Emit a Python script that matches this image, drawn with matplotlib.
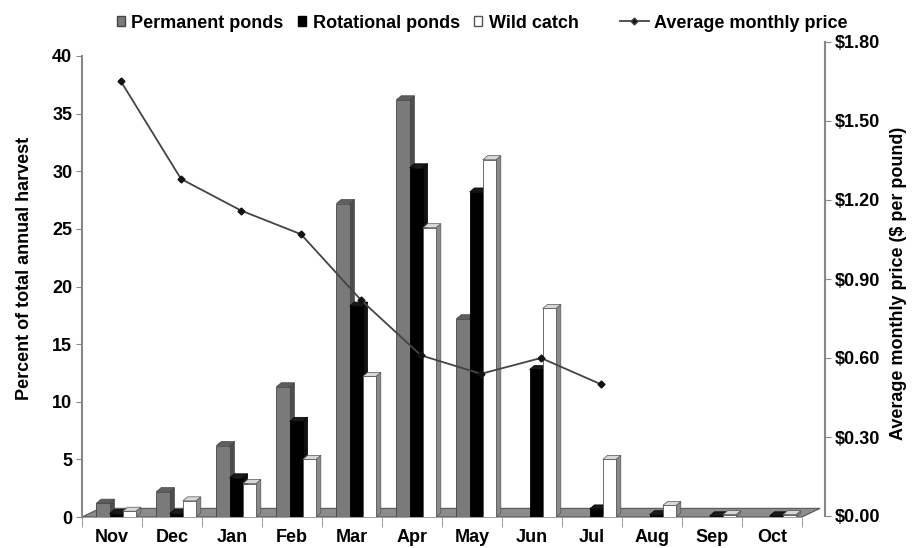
import matplotlib
matplotlib.use("Agg")
import matplotlib.pyplot as plt
from matplotlib.patches import Polygon, Patch
from matplotlib.lines import Line2D
from matplotlib.ticker import FuncFormatter

plt.rcParams['font.family'] = ['Liberation Sans', 'DejaVu Sans']
plt.rcParams['font.weight'] = 'bold'
FS = 13

# === Data ===
months = ['Nov', 'Dec', 'Jan', 'Feb', 'Mar', 'Apr', 'May', 'Jun', 'Jul', 'Aug', 'Sep', 'Oct']
permanent = [1.2, 2.2, 6.2, 11.3, 27.2, 36.2, 17.2, 0.0, 0.0, 0.0, 0.0, 0.0]
rotational = [0.3, 0.3, 3.4, 8.3, 18.3, 30.3, 28.2, 12.8, 0.7, 0.2, 0.1, 0.1]
wild = [0.5, 1.4, 2.9, 5.0, 12.2, 25.1, 31.0, 18.1, 5.0, 1.0, 0.2, 0.2]
price_months = ['Nov', 'Dec', 'Jan', 'Feb', 'Mar', 'Apr', 'May', 'Jun', 'Jul']
price = [1.65, 1.28, 1.16, 1.07, 0.82, 0.61, 0.54, 0.60, 0.50]
left_ticks = [0, 5, 10, 15, 20, 25, 30, 35, 40]
right_ticks = [0.0, 0.3, 0.6, 0.9, 1.2, 1.5, 1.8]

W, H = 920, 548
fig = plt.figure(figsize=(W / 100, H / 100), dpi=100)

# main (bars) axes: px 82..802 horizontally, 56..517 vertically
ax = fig.add_axes([82 / W, (H - 517) / H, 720 / W, 461 / H])
ax.set_xlim(-0.5, len(months) - 0.5)
ax.set_ylim(0, 40)

# fake 3D look
bw = 0.22
dx, dy = 0.08, 0.35
offsets = [-0.15, 0.07, 0.29]
styles = [
    dict(front='#7a7a7a', top='#5e5e5e', side='#4e4e4e', edge='#444444'),
    dict(front='#000000', top='#1a1a1a', side='#111111', edge='#000000'),
    dict(front='#ffffff', top='#d8d8d8', side='#8a8a8a', edge='#555555'),
]

# floor slab
fdx, fdy = 0.3, 0.75
ax.add_patch(Polygon([(-0.5, 0), (11.5, 0), (11.5 + fdx, fdy), (-0.5 + fdx, fdy)],
                     closed=True, facecolor='#8c8c8c', edgecolor='#555555',
                     linewidth=0.8, zorder=1, clip_on=False))

x = list(range(len(months)))
for series, off, st in zip([permanent, rotational, wild], offsets, styles):
    xs = [i + off for i in x]
    ax.bar(xs, series, width=bw, color=st['front'], edgecolor=st['edge'],
           linewidth=0.6, zorder=3)
    for xc, h in zip(xs, series):
        if h <= 0:
            continue
        x0, x1 = xc - bw / 2, xc + bw / 2
        ax.add_patch(Polygon([(x0, h), (x0 + dx, h + dy), (x1 + dx, h + dy), (x1, h)],
                             closed=True, facecolor=st['top'], edgecolor=st['edge'],
                             linewidth=0.5, zorder=3))
        ax.add_patch(Polygon([(x1, 0), (x1 + dx, dy), (x1 + dx, h + dy), (x1, h)],
                             closed=True, facecolor=st['side'], edgecolor=st['edge'],
                             linewidth=0.5, zorder=2.9))

ax.set_yticks(left_ticks)
ax.set_xticks(x)
ax.set_xticklabels(months, fontsize=FS, fontweight='bold')
ax.set_xticks([i - 0.5 for i in range(len(months) + 1)], minor=True)
ax.tick_params(axis='x', which='major', length=0, pad=9)
ax.tick_params(axis='x', which='minor', length=7, color='#888888', direction='out')
ax.tick_params(axis='y', length=4, color='#888888', labelsize=FS, pad=3)
for s in ['top', 'right', 'bottom']:
    ax.spines[s].set_visible(False)
ax.spines['left'].set_color('#888888')
ax.spines['left'].set_linewidth(1.5)
ax.set_ylabel('Percent of total annual harvest', fontsize=FS, fontweight='bold')
ax.yaxis.set_label_coords(-0.068, 0.54)

# price axes: slightly shifted back plane
ax2 = fig.add_axes([91 / W, (H - 516) / H, 720 / W, 474 / H], facecolor='none')
ax2.set_xlim(-0.5, len(months) - 0.5)
ax2.set_ylim(0, 1.8)
px = [months.index(m) for m in price_months]
ax2.plot(px, price, color='#444444', linewidth=1.3, marker='D', markersize=3.5,
         markerfacecolor='#111111', markeredgecolor='#111111', zorder=5)
ax2.set_xticks([])
ax2.yaxis.tick_right()
ax2.yaxis.set_label_position('right')
ax2.set_yticks(right_ticks)
ax2.yaxis.set_major_formatter(FuncFormatter(lambda v, pos: f'${v:.2f}'))
ax2.tick_params(axis='y', length=4, color='#888888', pad=3, labelsize=FS,
                labelright=True, labelleft=False)
for s in ['top', 'left', 'bottom']:
    ax2.spines[s].set_visible(False)
ax2.spines['right'].set_position(('outward', 10))
ax2.spines['right'].set_color('#888888')
ax2.spines['right'].set_linewidth(1.5)
ax2.set_ylabel('Average monthly price ($ per pound)', fontsize=FS, fontweight='bold')
ax2.yaxis.set_label_coords(1.11, 0.49)

# legends
bar_handles = [
    Patch(facecolor=styles[0]['front'], edgecolor=styles[0]['edge']),
    Patch(facecolor=styles[1]['front'], edgecolor=styles[1]['edge']),
    Patch(facecolor=styles[2]['front'], edgecolor=styles[2]['edge']),
]
fig.legend(bar_handles, ['Permanent ponds', 'Rotational ponds', 'Wild catch'],
           loc='center left', bbox_to_anchor=(117 / W, 1 - 23 / H), ncol=3,
           frameon=False, handlelength=0.45, handleheight=0.45, handletextpad=0.35,
           columnspacing=0.8, borderaxespad=0, borderpad=0,
           prop={'weight': 'bold', 'size': FS})
line_handle = Line2D([], [], color='#444444', linewidth=1.3, marker='D', markersize=3.5,
                     markerfacecolor='#111111')
fig.legend([line_handle], ['Average monthly price'], loc='center left',
           bbox_to_anchor=(620 / W, 1 - 23 / H), frameon=False, handlelength=1.6,
           handletextpad=0.3, borderaxespad=0, borderpad=0,
           prop={'weight': 'bold', 'size': FS})

fig.savefig('out.png', dpi=100)
